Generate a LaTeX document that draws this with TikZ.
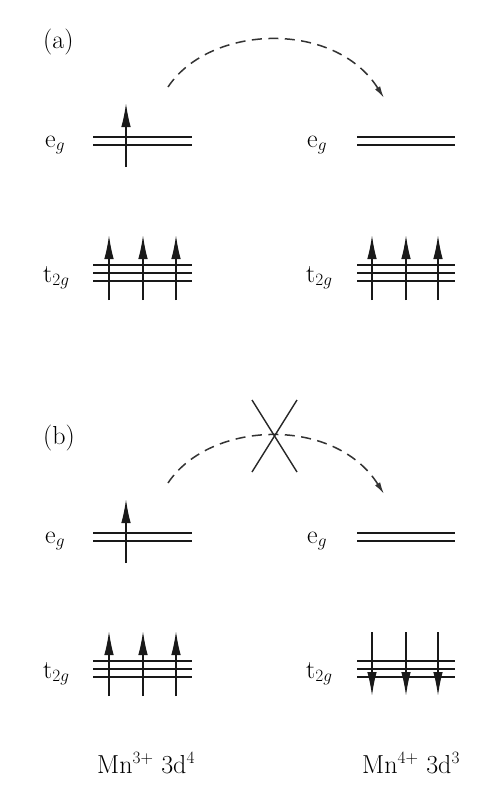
\documentclass[tikz,border=0pt]{standalone}
\usetikzlibrary{arrows.meta}
\begin{document}
\begin{tikzpicture}[x=1pt,y=-1pt,
  level/.style={line width=1.6pt,black!90},
  spinup/.style={line width=1.6pt,black!90,-{Latex[length=24pt,width=9.5pt]}},
  hop/.style={line width=1.5pt,black!80,dash pattern=on 10pt off 6.5pt,-{Latex[length=12pt,width=6pt]}},
  lbl/.style={inner sep=0pt,anchor=base west,font=\fontsize{26}{30}\selectfont}]
\useasboundingbox (0,0) rectangle (493,785);
\foreach \dy/\tag in {0/a,396/b}{
  \node[lbl] (lab\tag) at (43,48+\dy) {(\tag)};
  \node[lbl] (egL\tag) at (45,147+\dy) {e$_g$};
  \node[lbl] (egR\tag) at (307,147+\dy) {e$_g$};
  \node[lbl] (tL\tag) at (43,282+\dy) {t$_{2g}$};
  \node[lbl] (tR\tag) at (306,282+\dy) {t$_{2g}$};
  % e_g levels
  \draw[level] (93,137+\dy) -- (192,137+\dy);
  \draw[level] (93,145+\dy) -- (192,145+\dy);
  \draw[level] (357,137+\dy) -- (455,137+\dy);
  \draw[level] (357,145+\dy) -- (455,145+\dy);
  % t_2g levels
  \foreach \yy in {265,273,281}{
    \draw[level] (93,\yy+\dy) -- (192,\yy+\dy);
    \draw[level] (357,\yy+\dy) -- (455,\yy+\dy);
  }
  % e_g spin
  \draw[spinup] (126,167+\dy) -- (126,103+\dy);
  % left t_2g spins
  \foreach \xx in {109,143,176}{
    \draw[spinup] (\xx,300+\dy) -- (\xx,235+\dy);
  }
  % hopping arc
  \coordinate (hs\tag) at (168,87+\dy);
  \coordinate (he\tag) at (384,98+\dy);
  \draw[hop] (hs\tag) .. controls (210,24+\dy) and (335,20+\dy) .. (he\tag);
}
% right t_2g spins: (a) up, (b) down
\foreach \xx in {372,406,438}{
  \draw[spinup] (\xx,300) -- (\xx,235);
  \draw[spinup] (\xx,632) -- (\xx,696);
}
% forbidding cross
\coordinate (c1) at (252,400);
\coordinate (c2) at (297,472);
\coordinate (c3) at (297,400);
\coordinate (c4) at (252,472);
\draw[line width=1.4pt,black!85] (c1) -- (c2);
\draw[line width=1.4pt,black!85] (c3) -- (c4);
\node[lbl] (mnL) at (97,773) {Mn$^{3+}$ 3d$^4$};
\node[lbl] (mnR) at (362,773) {Mn$^{4+}$ 3d$^3$};
\end{tikzpicture}
\end{document}
